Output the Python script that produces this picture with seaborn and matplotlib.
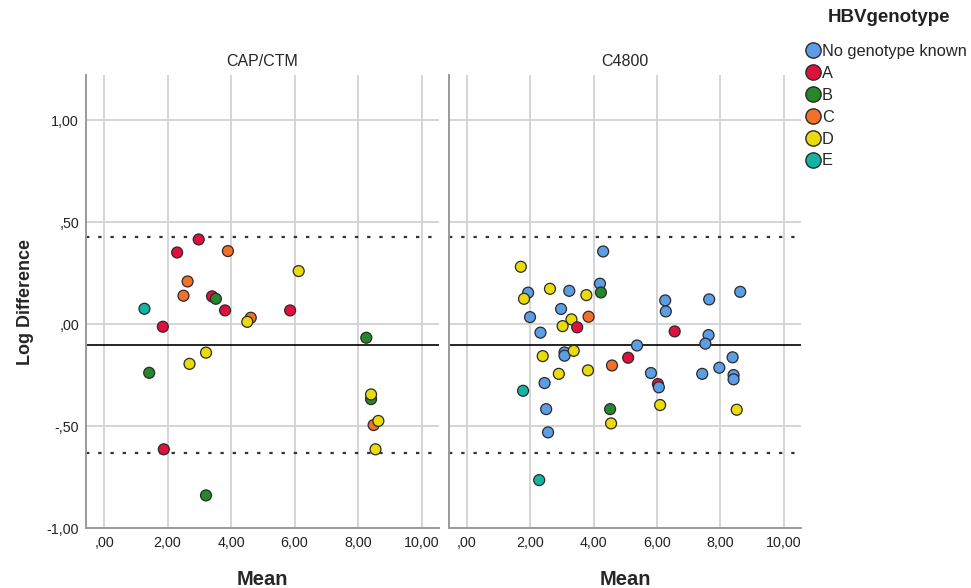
import numpy as np
import pandas as pd
import matplotlib.pyplot as plt
from matplotlib.lines import Line2D
import seaborn as sns

# ---------------------------
# DATA
# ---------------------------
genotypes = ["No genotype known", "A", "B", "C", "D", "E"]
colors = ["#5d9de6", "#e0103c", "#25862a", "#f2702a", "#eadb0c", "#15b3a2"]

cap_mean = [2.98, 2.30, 3.90, 6.13, 2.63, 2.50, 3.40, 3.52, 1.27, 3.81, 5.86, 4.62, 4.51,
            1.85, 8.26, 3.21, 2.69, 1.42, 8.41, 8.41, 8.49, 8.64, 1.88, 8.55, 3.21]
cap_diff = [0.415, 0.351, 0.358, 0.26, 0.209, 0.139, 0.136, 0.124, 0.075, 0.067, 0.067, 0.031, 0.011,
            -0.013, -0.067, -0.14, -0.195, -0.239, -0.368, -0.345, -0.495, -0.475, -0.614, -0.614, -0.84]
cap_geno = ["A", "A", "C", "D", "C", "C", "A", "B", "E", "A", "A", "C", "D",
            "A", "B", "D", "D", "B", "B", "D", "C", "D", "A", "D", "B"]

c48_mean = [4.30, 1.70, 1.93, 1.80, 2.62, 3.23, 3.77, 4.20, 4.23, 6.26, 7.65, 8.63, 6.28, 2.97,
            1.99, 3.30, 3.84, 3.02, 3.48, 2.32, 6.56, 7.63, 7.53, 5.37, 2.39, 3.08, 3.08, 3.37,
            5.09, 4.58, 8.39, 7.97, 7.43, 5.81, 2.90, 3.82, 8.42, 8.42, 2.45, 6.03, 6.06, 1.77,
            6.10, 2.50, 4.52, 8.52, 4.55, 2.56, 2.28]
c48_diff = [0.356, 0.281, 0.154, 0.124, 0.173, 0.163, 0.142, 0.198, 0.155, 0.116, 0.121, 0.158, 0.062, 0.074,
            0.034, 0.023, 0.036, -0.01, -0.016, -0.042, -0.036, -0.054, -0.096, -0.105, -0.157, -0.139, -0.155, -0.131,
            -0.165, -0.203, -0.163, -0.214, -0.244, -0.240, -0.244, -0.227, -0.25, -0.271, -0.289, -0.294, -0.31, -0.327,
            -0.397, -0.417, -0.417, -0.42, -0.487, -0.531, -0.765]
c48_geno = ["No genotype known", "D", "No genotype known", "D", "D", "No genotype known", "D",
            "No genotype known", "B", "No genotype known", "No genotype known", "No genotype known",
            "No genotype known", "No genotype known", "No genotype known", "D", "C", "D", "A",
            "No genotype known", "A", "No genotype known", "No genotype known", "No genotype known", "D",
            "No genotype known", "No genotype known", "D", "A", "C", "No genotype known",
            "No genotype known", "No genotype known", "No genotype known", "D", "D",
            "No genotype known", "No genotype known", "No genotype known", "A", "No genotype known", "E",
            "D", "No genotype known", "B", "D", "D", "No genotype known", "E"]

bias = -0.103
upper_loa = 0.426
lower_loa = -0.632

x_ticks = [0, 2, 4, 6, 8, 10]
x_labels = [",00", "2,00", "4,00", "6,00", "8,00", "10,00"]
y_ticks = [-1.0, -0.5, 0.0, 0.5, 1.0]
y_labels = ["-1,00", "-,50", ",00", ",50", "1,00"]

panels = [("CAP/CTM", cap_mean, cap_diff, cap_geno),
          ("C4800", c48_mean, c48_diff, c48_geno)]

# ---------------------------
# PLOT
# ---------------------------
sns.set_style("white")
plt.rcParams["font.family"] = ["Liberation Sans", "DejaVu Sans"]

palette = dict(zip(genotypes, colors))
fig = plt.figure(figsize=(9.71, 5.88), dpi=100)
ax_pos = [[0.0886, 0.102, 0.3635, 0.770], [0.4624, 0.102, 0.3625, 0.770]]

for i, (title, xs, ys, gs) in enumerate(panels):
    ax = fig.add_axes(ax_pos[i])
    df = pd.DataFrame({"Mean": xs, "Diff": ys, "HBVgenotype": gs})
    ax.grid(True, color="#d2d2d2", linewidth=1.3)
    ax.set_axisbelow(True)
    ax.axhline(bias, color="black", linewidth=1.2, zorder=2)
    for lim in (upper_loa, lower_loa):
        ax.axhline(lim, color="#333333", linewidth=1.6, linestyle=(0, (1.5, 4.0)), zorder=2)
    sns.scatterplot(data=df, x="Mean", y="Diff", hue="HBVgenotype", palette=palette,
                    hue_order=genotypes, s=62, edgecolor="#2a2a2a", linewidth=0.9,
                    legend=False, ax=ax, zorder=3)
    ax.set_xlim(-0.57, 10.55)
    ax.set_ylim(-1.0, 1.22)
    ax.set_xticks(x_ticks)
    ax.set_xticklabels(x_labels)
    ax.set_yticks(y_ticks)
    if i == 0:
        ax.set_yticklabels(y_labels)
        ax.set_ylabel("Log Difference", fontsize=13, fontweight="bold", labelpad=9)
    else:
        ax.set_yticklabels([])
        ax.set_ylabel("")
    ax.tick_params(axis="x", length=0, labelsize=10.3, colors="#222222", pad=6)
    ax.tick_params(axis="y", length=0, labelsize=10.3, colors="#222222", pad=5)
    ax.set_xlabel("Mean", fontsize=14.5, fontweight="bold", labelpad=14)
    ax.set_title(title, fontsize=11.5, pad=7)
    for side in ("top", "right"):
        ax.spines[side].set_visible(False)
    for side in ("left", "bottom"):
        ax.spines[side].set_color("#9a9a9a")
        ax.spines[side].set_linewidth(1.4)

# legend: title as separate text, entries below
fig.text(889 / 971, 1 - 18 / 588, "HBVgenotype", ha="center", va="center",
         fontsize=13.5, fontweight="bold", color="#222222")
handles = [Line2D([], [], marker="o", linestyle="", markersize=11,
                  markerfacecolor=c, markeredgecolor="#2a2a2a", markeredgewidth=1.0)
           for c in colors]
leg = fig.legend(handles, genotypes, loc="upper left",
                 bbox_to_anchor=(0.828, 1 - 44 / 588), frameon=False, fontsize=11.8,
                 handletextpad=0.0, labelspacing=0.42, handlelength=1.1,
                 borderaxespad=0.0, borderpad=0.0)

fig.savefig("out.png", dpi=100)
